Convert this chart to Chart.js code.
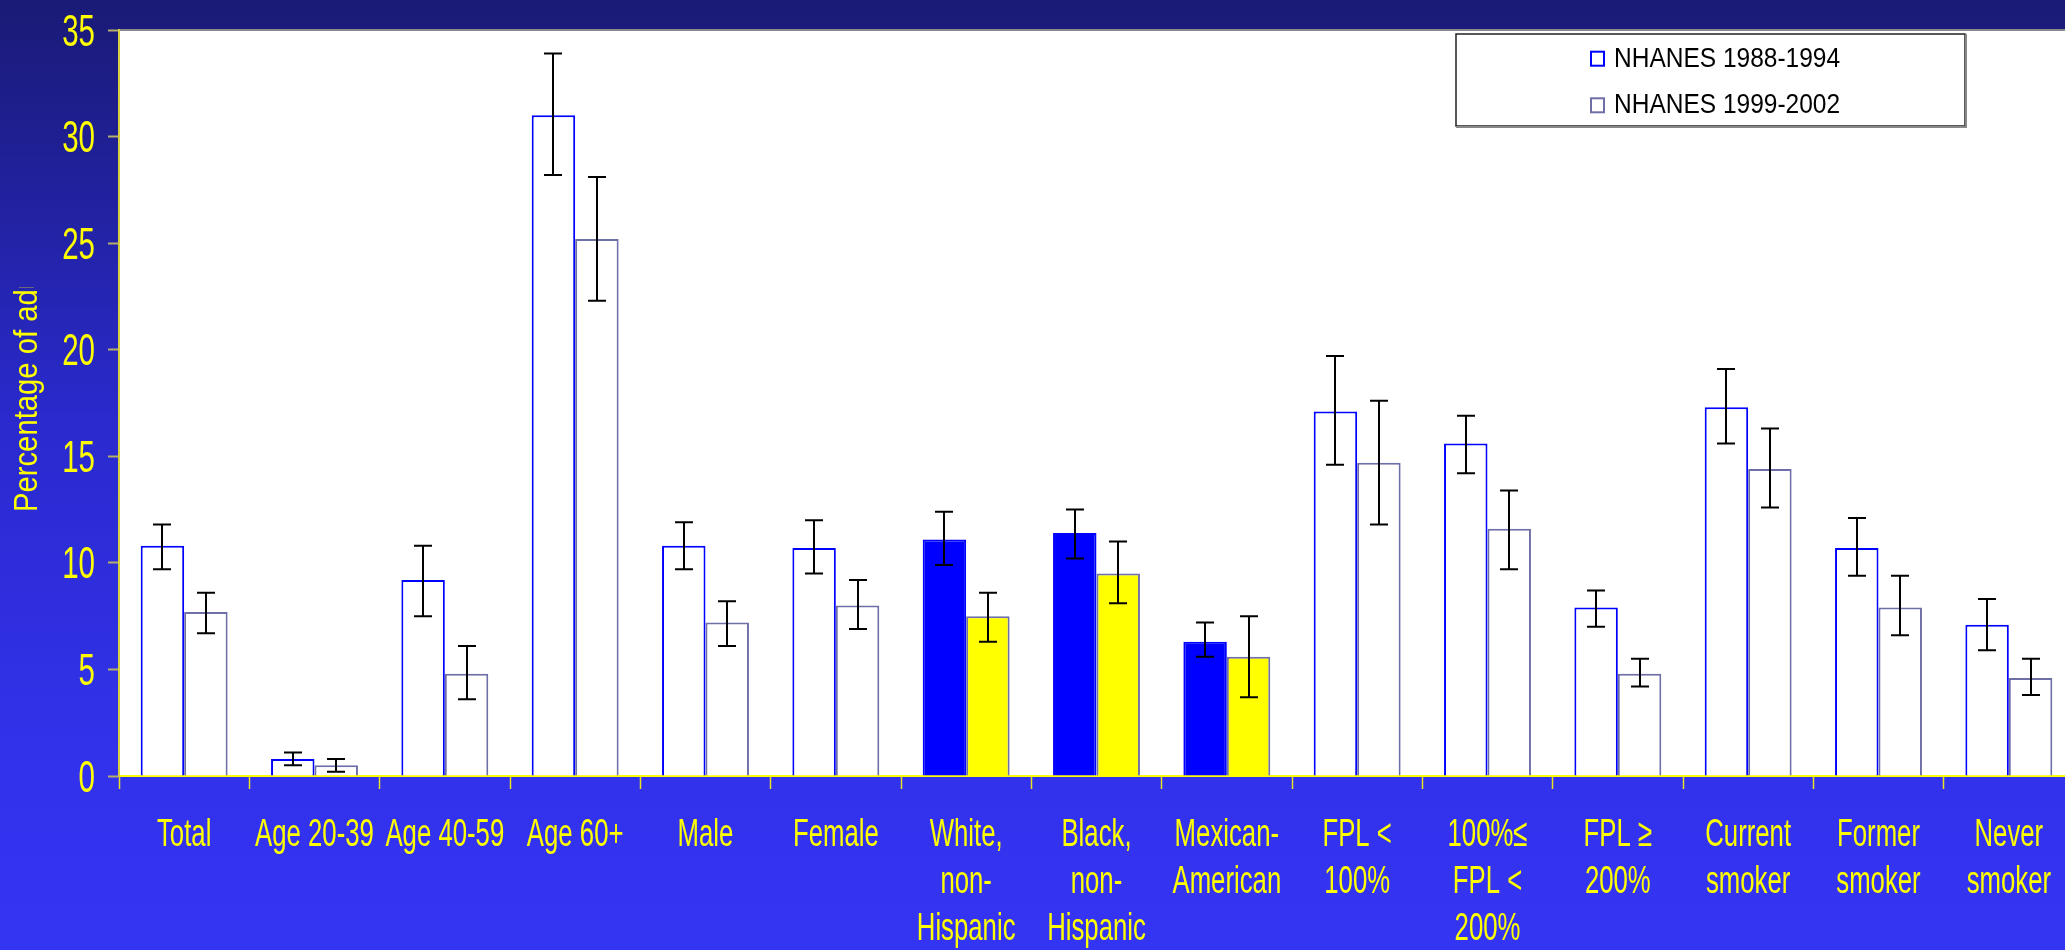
<!DOCTYPE html>
<html>
<head>
<meta charset="utf-8">
<script src="https://cdn.jsdelivr.net/npm/chart.js@4.4.1/dist/chart.umd.min.js"></script>
<style>
  html, body { margin: 0; padding: 0; overflow: hidden; background: #2727bb; }
  canvas { display: block; }
</style>
</head>
<body>
<canvas id="chart" width="2080" height="950"></canvas>
<script>
// categories on the x axis (multi-line labels as arrays)
const categories = [
  'Total', 'Age 20-39', 'Age 40-59', 'Age 60+', 'Male', 'Female',
  ['White,', 'non-', 'Hispanic'], ['Black,', 'non-', 'Hispanic'], ['Mexican-', 'American'],
  ['FPL <', '100%'], ['100%\u2264', 'FPL <', '200%'], ['FPL \u2265', '200%'],
  ['Current', 'smoker'], ['Former', 'smoker'], ['Never', 'smoker']
];
const seriesNames = ['NHANES 1988-1994', 'NHANES 1999-2002'];

// percentages
const values8894 = [10.8, 0.8, 9.2, 31.0, 10.8, 10.7, 11.1, 11.4, 6.3, 17.1, 15.6, 7.9, 17.3, 10.7, 7.1];
const low8894    = [9.7, 0.5, 7.5, 28.2, 9.7, 9.5, 9.9, 10.2, 5.6, 14.6, 14.2, 7.0, 15.6, 9.4, 5.9];
const high8894   = [11.8, 1.1, 10.8, 33.9, 11.9, 12.0, 12.4, 12.5, 7.2, 19.7, 16.9, 8.7, 19.1, 12.1, 8.3];

const values9902 = [7.7, 0.5, 4.8, 25.2, 7.2, 8.0, 7.5, 9.5, 5.6, 14.7, 11.6, 4.8, 14.4, 7.9, 4.6];
const low9902    = [6.7, 0.2, 3.6, 22.3, 6.1, 6.9, 6.3, 8.1, 3.7, 11.8, 9.7, 4.2, 12.6, 6.6, 3.8];
const high9902   = [8.6, 0.8, 6.1, 28.1, 8.2, 9.2, 8.6, 11.0, 7.5, 17.6, 13.4, 5.5, 16.3, 9.4, 5.5];

const yTickValues = [0, 5, 10, 15, 20, 25, 30, 35];
const yTitle = 'Percentage of adults';

// race/ethnicity groups are drawn with solid fills
const solidIdx = [6, 7, 8];

const sans = "'Liberation Sans', Arial, sans-serif";
const yellow = '#ffff00';

const fills = (solid) => categories.map((c, i) => solidIdx.includes(i) ? solid : '#ffffff');

// the slide's text is a squeezed Arial, so draw it narrowed horizontally
function squeezed(ctx, text, x, y, sx, align) {
  ctx.save();
  ctx.translate(x, y);
  ctx.scale(sx, 1);
  ctx.textAlign = align;
  ctx.fillText(text, 0, 0);
  ctx.restore();
}

// gradient background + white plot area
const backdrop = {
  id: 'backdrop',
  beforeDraw(chart) {
    const { ctx, chartArea: a, width, height } = chart;
    ctx.save();
    const g = ctx.createLinearGradient(0, 0, 0, height);
    g.addColorStop(0, '#1a1a76');
    g.addColorStop(0.45, '#2a2acf');
    g.addColorStop(0.8, '#3232ec');
    g.addColorStop(1, '#3434f3');
    ctx.fillStyle = g;
    ctx.fillRect(0, 0, width, height);
    ctx.fillStyle = '#ffffff';
    ctx.fillRect(a.left, a.top, a.right - a.left, a.bottom - a.top);
    ctx.strokeStyle = '#8a8a8a';
    ctx.lineWidth = 2;
    ctx.beginPath();
    ctx.moveTo(a.left, a.top);
    ctx.lineTo(a.right, a.top);
    ctx.stroke();
    ctx.restore();
  }
};

// 95% CI whiskers
const errorBars = {
  id: 'errorBars',
  afterDatasetsDraw(chart) {
    const { ctx } = chart;
    const y = chart.scales.y;
    ctx.save();
    ctx.strokeStyle = '#000000';
    ctx.lineWidth = 2;
    chart.data.datasets.forEach((ds, di) => {
      chart.getDatasetMeta(di).data.forEach((bar, i) => {
        const x = Math.round(bar.x);
        const top = y.getPixelForValue(ds.errHigh[i]);
        const bot = y.getPixelForValue(ds.errLow[i]);
        ctx.beginPath();
        ctx.moveTo(x, top); ctx.lineTo(x, bot);
        ctx.moveTo(x - 9, top); ctx.lineTo(x + 9, top);
        ctx.moveTo(x - 9, bot); ctx.lineTo(x + 9, bot);
        ctx.stroke();
      });
    });
    ctx.restore();
  }
};

// tick labels, boxed legend and the clipped y title
const extras = {
  id: 'extras',
  afterDraw(chart) {
    const { ctx } = chart;
    const xs = chart.scales.x, ys = chart.scales.y;

    ctx.save();
    ctx.fillStyle = yellow;
    ctx.textBaseline = 'alphabetic';
    ctx.font = '44px ' + sans;
    ys.ticks.forEach(t => {
      squeezed(ctx, String(t.value), 95, ys.getPixelForValue(t.value) + 15.5, 0.67, 'right');
    });
    ctx.font = '39px ' + sans;
    chart.data.labels.forEach((lab, i) => {
      const lines = Array.isArray(lab) ? lab : [lab];
      const cx = xs.getPixelForTick(i);
      lines.forEach((ln, k) => squeezed(ctx, ln, cx, 846 + k * 47, 0.66, 'center'));
    });
    ctx.restore();

    // legend box
    ctx.save();
    ctx.fillStyle = '#ffffff';
    ctx.fillRect(1456, 34, 509, 92);
    ctx.strokeStyle = '#222222';
    ctx.lineWidth = 1.5;
    ctx.strokeRect(1456, 34, 509, 92);
    ctx.strokeStyle = '#888888';
    ctx.lineWidth = 2;
    ctx.beginPath();
    ctx.moveTo(1966, 34); ctx.lineTo(1966, 127); ctx.lineTo(1456, 127);
    ctx.stroke();
    ctx.font = '28px ' + sans;
    ctx.textBaseline = 'alphabetic';
    chart.data.datasets.forEach((ds, i) => {
      const base = 66.7 + i * 46.6;
      ctx.strokeStyle = ds.borderColor;
      ctx.lineWidth = 2;
      ctx.strokeRect(1591, base - 15, 13, 14);
      ctx.fillStyle = '#000000';
      squeezed(ctx, ds.label, 1614, base, 0.875, 'left');
    });
    ctx.restore();

    // y axis title, cut off at the top as in the original slide
    ctx.save();
    ctx.beginPath();
    ctx.rect(0, 287, 118, 950 - 287);
    ctx.clip();
    ctx.translate(36.5, 512);
    ctx.rotate(-Math.PI / 2);
    ctx.fillStyle = yellow;
    ctx.font = '34px ' + sans;
    ctx.textBaseline = 'alphabetic';
    squeezed(ctx, yTitle, 0, 0, 0.86, 'left');
    ctx.restore();
  }
};

new Chart(document.getElementById('chart'), {
  type: 'bar',
  data: {
    labels: categories,
    datasets: [
      {
        label: seriesNames[0],
        data: values8894,
        errLow: low8894,
        errHigh: high8894,
        backgroundColor: fills('#0000ff'),
        borderColor: '#0000ff',
        borderWidth: 2
      },
      {
        label: seriesNames[1],
        data: values9902,
        errLow: low9902,
        errHigh: high9902,
        backgroundColor: fills('#ffff00'),
        borderColor: '#6e6ea8',
        borderWidth: 2
      }
    ]
  },
  options: {
    responsive: false,
    animation: false,
    events: [],
    categoryPercentage: 0.667,
    barPercentage: 1.0,
    layout: { padding: { top: 30, right: 6, left: 0, bottom: 0 } },
    plugins: {
      legend: { display: false },
      tooltip: { enabled: false }
    },
    scales: {
      x: {
        grid: {
          drawOnChartArea: false,
          tickLength: 13,
          tickColor: '#e8e020',
          tickWidth: 1.5
        },
        border: { color: yellow, width: 2 },
        ticks: { display: false, autoSkip: false },
        afterFit(scale) { scale.height = 174; }
      },
      y: {
        min: yTickValues[0],
        max: yTickValues[yTickValues.length - 1],
        afterBuildTicks(scale) {
          scale.ticks = yTickValues.map(v => ({ value: v }));
        },
        grid: {
          drawOnChartArea: false,
          tickLength: 11,
          tickColor: '#b4ae6a',
          tickWidth: 2
        },
        border: { color: '#d8d040', width: 2 },
        ticks: { display: false },
        afterFit(scale) { scale.width = 119; }
      }
    }
  },
  plugins: [backdrop, errorBars, extras]
});
</script>
</body>
</html>
